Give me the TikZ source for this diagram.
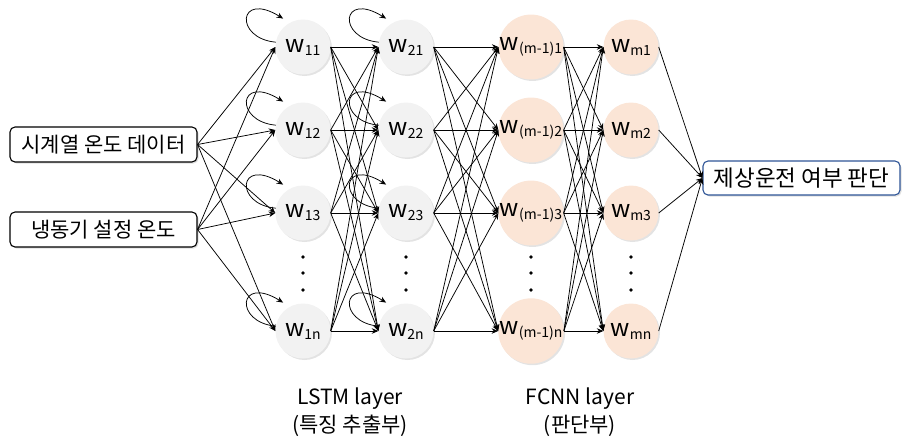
\documentclass[tikz,border=0pt]{standalone}
\usepackage{fontspec}
\setmainfont{Noto Sans CJK KR}
\usepackage{tikz}
\usetikzlibrary{arrows.meta,positioning,shadows}
\definecolor{cellgray}{RGB}{242,242,242}
\definecolor{cellpeach}{RGB}{251,229,214}
\definecolor{outblue}{RGB}{47,85,151}
\newcommand{\wn}[1]{{\fontsize{24}{24}\selectfont w}\raisebox{-3pt}{\fontsize{14}{14}\selectfont #1}}

\begin{document}
\begin{tikzpicture}[
    x=1pt, y=1pt,
    neuron/.style={circle, minimum size=55pt, inner sep=0pt, drop shadow={opacity=0.22, shadow xshift=1.5pt, shadow yshift=-1.5pt}},
    lstm/.style={neuron, fill=cellgray},
    fcnn/.style={neuron, fill=cellpeach},
    box/.style={rectangle, rounded corners=5pt, draw, line width=1.1pt, fill=white, minimum height=35pt, inner sep=0pt, font=\fontsize{21}{22}\selectfont, drop shadow={opacity=0.25, shadow xshift=1.5pt, shadow yshift=-1.5pt}},
    arr/.style={-{Stealth[length=6.5pt, width=5.5pt]}, line width=0.75pt},
    lab/.style={font=\fontsize{21}{28}\selectfont, align=center}
]
  \useasboundingbox (0,0) rectangle (904,-442);

  % inputs and output
  \node[box, minimum width=187pt] (series) at (103.5,-144.5) {시계열 온도 데이터};
  \node[box, minimum width=187pt] (setpt) at (103.5,-229.5) {냉동기 설정 온도};
  \node[box, draw=outblue, minimum width=197pt, minimum height=34pt, font=\fontsize{22.5}{24}\selectfont] (judge) at (801.5,-178) {제상운전 여부 판단};

  % cells
  \foreach \i/\y/\s in {1/47/1, 2/130/2, 3/213/3, 4/331/n} {
    \node[lstm] (l1\i) at (303,-\y) {\wn{1\s}};
    \node[lstm] (l2\i) at (406,-\y) {\wn{2\s}};
    \node[fcnn] (f1\i) at (531,-\y) {\wn{(m-1)\s}};
    \node[fcnn] (f2\i) at (631,-\y) {\wn{m\s}};
  }
  \foreach \x in {303,406,531,631}
    \foreach \y in {257,273,290}
      \fill (\x,-\y) circle (1.8pt);

  % connections
  \foreach \i in {1,...,4} {
    \draw[arr] (series.east) -- (l1\i.west);
    \draw[arr] (setpt.east) -- (l1\i.west);
    \draw[arr] (f2\i.east) -- (judge.west);
    \foreach \j in {1,...,4} {
      \draw[arr] (l1\i.east) -- (l2\j.west);
      \draw[arr] (l2\i.east) -- (f1\j.west);
      \draw[arr] (f1\i.east) -- (f2\j.west);
    }
    % recurrent loops
    \draw[arr] (l1\i.170) .. controls +(-42,4) and +(-45,28) .. ([shift={(125:7pt)}]l1\i.125);
    \draw[arr] (l2\i.170) .. controls +(-42,4) and +(-45,28) .. ([shift={(125:7pt)}]l2\i.125);
  }

  \node[lab] (lstmlab) at (350,-412) {LSTM layer\\(특징 추출부)};
  \node[lab] (fcnnlab) at (580,-412) {FCNN layer\\(판단부)};
\end{tikzpicture}
\end{document}
